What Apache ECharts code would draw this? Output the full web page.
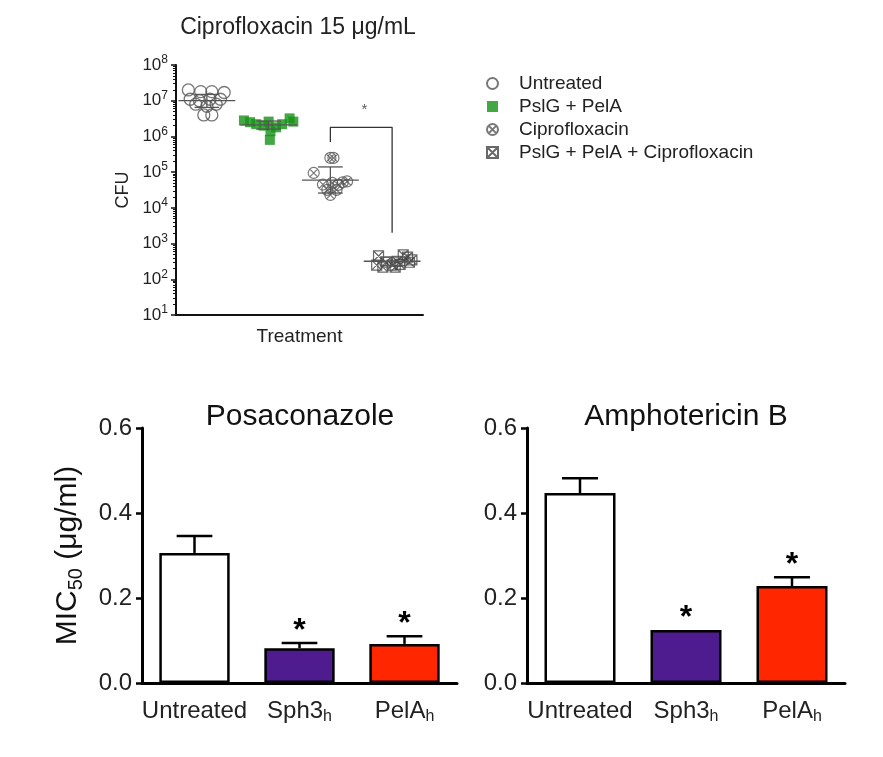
<!DOCTYPE html>
<html><head><meta charset="utf-8">
<script src="https://cdn.jsdelivr.net/npm/echarts@6/dist/echarts.min.js"></script>
<style>html,body{margin:0;padding:0;background:#fff}#c{width:883px;height:757px}</style>
</head><body><div id="c"></div>
<script>
// ---------- Top panel: CFU scatter (log scale) ----------
const treatments = ['Untreated', 'PslG + PelA', 'Ciprofloxacin', 'PslG + PelA + Ciprofloxacin'];
const untreatedJitter = [-0.30, -0.10, 0.08, 0.28, -0.27, -0.12, 0.05, 0.22, -0.18, 0.0, 0.15, -0.05, 0.08];
const untreatedCFU = [2.0e7, 1.8e7, 1.8e7, 1.7e7, 1.1e7, 1.0e7, 1.1e7, 1.1e7, 8e6, 7e6, 8e6, 4e6, 4e6];
const pelaJitter = [-0.40, -0.30, -0.20, -0.08, 0.0, 0.03, 0.02, 0.12, 0.22, 0.34, 0.40];
const pelaCFU = [2.8e6, 2.5e6, 2.2e6, 2.0e6, 2.6e6, 1.4e6, 8e5, 1.8e6, 2.2e6, 3.2e6, 2.6e6];
const ciproJitter = [0.0, 0.05, -0.27, -0.12, 0.03, 0.13, 0.27, -0.05, 0.10, 0.0, 0.20];
const ciproCFU = [2.5e5, 2.5e5, 9.5e4, 4.5e4, 5e4, 4.4e4, 5.5e4, 3.2e4, 3.2e4, 2.3e4, 5.2e4];
const comboJitter = [-0.22, -0.10, 0.0, 0.08, 0.18, 0.25, 0.28, -0.15, 0.05, 0.13, 0.32, -0.25];
const comboCFU = [450, 300, 250, 320, 480, 420, 300, 220, 220, 260, 350, 250];
const cfuMean = [1.0e7, 2.1e6, 6.0e4, 320];
const cfuSdHigh = [1.5e7, 2.7e6, 1.4e5, 420];
const cfuSdLow = [6.5e6, 1.6e6, 2.6e4, 240];
const bracketX = [2, 2, 3, 3];
const bracketY = [7e5, 1.8e6, 1.8e6, 2e3];
const bracketStar = [2.55, 5.5e6];

// ---------- Bottom panels: MIC50 bars ----------
const micCats = ['Untreated', 'Sph3', 'PelA'];
const micSub = ['', 'h', 'h'];
const posaMean = [0.306, 0.082, 0.092];
const posaErr = [0.346, 0.094, 0.110];
const posaSig = ['', '*', '*'];
const amphoMean = [0.447, 0.125, 0.228];
const amphoErr = [0.482, 0.125, 0.249];
const amphoSig = ['', '*', '*'];
const barColors = ['#ffffff', '#4e1c8f', '#ff2600'];

const FONT = 'Liberation Sans, Arial, Helvetica, sans-serif';
const chart = echarts.init(document.getElementById('c'), null, {renderer: 'canvas'});

function pts(jit, vals, cat) { return vals.map((v, k) => [cat + jit[k], v]); }

const circX = 'path://M10,0 A10,10 0 1,1 10,20 A10,10 0 1,1 10,0 Z M2.93,2.93 L17.07,17.07 M17.07,2.93 L2.93,17.07';
const squareX = 'path://M0,0 L20,0 L20,20 L0,20 Z M0,0 L20,20 M20,0 L0,20';

function meanSdRender(params, api) {
  const i = api.value(0), m = api.value(1), lo = api.value(2), hi = api.value(3);
  const pm0 = api.coord([i - 0.46, m]), pm1 = api.coord([i + 0.46, m]);
  const pLo = api.coord([i, lo]), pHi = api.coord([i, hi]);
  const c0 = api.coord([i - 0.2, hi]), c1 = api.coord([i + 0.2, hi]);
  const d0 = api.coord([i - 0.2, lo]), d1 = api.coord([i + 0.2, lo]);
  const st = {stroke: '#555', lineWidth: 1.3, fill: null};
  return {type: 'group', children: [
    {type: 'line', shape: {x1: pm0[0], y1: pm0[1], x2: pm1[0], y2: pm1[1]}, style: st},
    {type: 'line', shape: {x1: pLo[0], y1: pLo[1], x2: pHi[0], y2: pHi[1]}, style: st},
    {type: 'line', shape: {x1: c0[0], y1: c0[1], x2: c1[0], y2: c1[1]}, style: st},
    {type: 'line', shape: {x1: d0[0], y1: d0[1], x2: d1[0], y2: d1[1]}, style: st}
  ]};
}

function makeErrRender(sig) {
  return function (params, api) {
    const i = api.value(0), m = api.value(1), e = api.value(2);
    const base = api.coord([i, m]), top = api.coord([i, e]);
    const band = api.size([1, 0])[0];
    const half = band * 0.17;
    const st = {stroke: '#000', lineWidth: 2.5, fill: null};
    const children = [];
    if (e > m) {
      children.push({type: 'line', shape: {x1: base[0], y1: base[1], x2: top[0], y2: top[1]}, style: st});
      children.push({type: 'line', shape: {x1: top[0] - half, y1: top[1], x2: top[0] + half, y2: top[1]}, style: st});
    }
    const s = sig[params.dataIndex];
    if (s) {
      children.push({type: 'text', x: top[0], y: top[1] + 4,
        style: {text: s, font: 'bold 32px ' + FONT, fill: '#000', align: 'center', verticalAlign: 'bottom'}});
    }
    return {type: 'group', children};
  };
}

const catLabel = (v, idx) => v + '{s|' + (micSub[idx] || '\u200b') + '}';
const bottomXAxis = (gi) => ({
  type: 'category', gridIndex: gi, data: micCats, boundaryGap: true,
  axisLine: {lineStyle: {color: '#000', width: 3}},
  axisTick: {alignWithLabel: true, length: 7, lineStyle: {color: '#000', width: 2.5}},
  axisLabel: {interval: 0, formatter: catLabel, color: '#222', fontSize: 24, fontFamily: FONT, margin: 14,
    rich: {s: {fontSize: 16, fontFamily: FONT, color: '#222', verticalAlign: 'bottom', padding: [12, 0, 0, 0]}}}
});
const bottomYAxis = (gi, withName) => ({
  type: 'value', gridIndex: gi, min: 0, max: 0.6, interval: 0.2,
  axisLine: {show: true, lineStyle: {color: '#000', width: 3}},
  axisTick: {show: true, length: 6, lineStyle: {color: '#000', width: 2.5}},
  splitLine: {show: false},
  axisLabel: {formatter: v => v.toFixed(1), color: '#222', fontSize: 24, fontFamily: FONT, margin: 10},
  name: withName ? 'MIC{s|50} (μg/ml)' : '',
  nameLocation: 'middle', nameRotate: 90, nameGap: 56,
  nameTextStyle: {fontSize: 30, color: '#111', fontFamily: FONT,
    rich: {s: {fontSize: 20, fontFamily: FONT, color: '#111', verticalAlign: 'bottom', padding: [16, 0, 0, 0]}}}
});

const option = {
  backgroundColor: '#fff',
  animation: false,
  textStyle: {fontFamily: FONT},
  title: [
    {text: 'Ciprofloxacin 15 μg/mL', left: 298, top: 16, textAlign: 'center', padding: 0,
      textStyle: {fontSize: 23, fontWeight: 'normal', color: '#222', fontFamily: FONT}},
    {text: 'Posaconazole', left: 300, top: 402, textAlign: 'center', padding: 0,
      textStyle: {fontSize: 30, fontWeight: 'normal', color: '#111', fontFamily: FONT}},
    {text: 'Amphotericin B', left: 686, top: 402, textAlign: 'center', padding: 0,
      textStyle: {fontSize: 30, fontWeight: 'normal', color: '#111', fontFamily: FONT}}
  ],
  legend: {
    data: treatments, orient: 'vertical', left: 481, top: 69, itemGap: 4,
    itemWidth: 11, itemHeight: 11,
    textStyle: {fontSize: 19, lineHeight: 19, color: '#222', fontFamily: FONT, padding: [0, 0, 0, 16]}
  },
  grid: [
    {left: 176, top: 65, width: 247, height: 250},
    {left: 142, top: 428, width: 315, height: 255},
    {left: 527, top: 428, width: 318, height: 255}
  ],
  xAxis: [
    {type: 'category', gridIndex: 0, data: treatments, boundaryGap: true,
      axisLine: {lineStyle: {color: '#111', width: 2}},
      axisTick: {alignWithLabel: true, length: 5, lineStyle: {color: '#111', width: 2}},
      axisLabel: {show: false},
      name: 'Treatment', nameLocation: 'middle', nameGap: 12,
      nameTextStyle: {fontSize: 19, color: '#222', fontFamily: FONT, verticalAlign: 'top'}},
    {type: 'value', gridIndex: 0, min: -0.5, max: 3.5, show: false},
    bottomXAxis(1),
    bottomXAxis(2)
  ],
  yAxis: [
    {type: 'log', gridIndex: 0, logBase: 10, min: 10, max: 1e8,
      axisLine: {show: true, onZero: false, lineStyle: {color: '#111', width: 2}},
      axisTick: {show: true, length: 5, lineStyle: {color: '#111', width: 1.5}},
      minorTick: {show: true, splitNumber: 9, length: 3, lineStyle: {color: '#111', width: 1}},
      splitLine: {show: false},
      axisLabel: {
        formatter: v => '{b|10}{s|' + Math.round(Math.log10(v)) + '}',
        margin: 8,
        rich: {
          b: {fontSize: 17, color: '#222', fontFamily: FONT, lineHeight: 22},
          s: {fontSize: 12, color: '#222', fontFamily: FONT, verticalAlign: 'top', lineHeight: 13}
        }
      },
      name: 'CFU', nameLocation: 'middle', nameRotate: 90, nameGap: 44,
      nameTextStyle: {fontSize: 18, color: '#222', fontFamily: FONT}},
    bottomYAxis(1, true),
    bottomYAxis(2, false)
  ],
  series: [
    {name: treatments[0], type: 'scatter', xAxisIndex: 1, yAxisIndex: 0,
      data: pts(untreatedJitter, untreatedCFU, 0), symbol: 'circle', symbolSize: 12,
      itemStyle: {color: 'rgba(255,255,255,0)', borderColor: '#555', borderWidth: 1.3}, z: 3},
    {name: treatments[1], type: 'scatter', xAxisIndex: 1, yAxisIndex: 0,
      data: pts(pelaJitter, pelaCFU, 1), symbol: 'rect', symbolSize: 10,
      itemStyle: {color: '#149214'}, z: 3},
    {name: treatments[2], type: 'scatter', xAxisIndex: 1, yAxisIndex: 0,
      data: pts(ciproJitter, ciproCFU, 2), symbol: circX, symbolSize: 11,
      itemStyle: {color: 'rgba(255,255,255,0)', borderColor: '#555', borderWidth: 1.2}, z: 3},
    {name: treatments[3], type: 'scatter', xAxisIndex: 1, yAxisIndex: 0,
      data: pts(comboJitter, comboCFU, 3), symbol: squareX, symbolSize: 10,
      itemStyle: {color: 'rgba(255,255,255,0)', borderColor: '#444', borderWidth: 1.2}, z: 3},
    {type: 'custom', xAxisIndex: 1, yAxisIndex: 0, renderItem: meanSdRender,
      data: cfuMean.map((m, i) => [i, m, cfuSdLow[i], cfuSdHigh[i]]), z: 4, silent: true},
    {type: 'line', xAxisIndex: 1, yAxisIndex: 0, data: bracketX.map((x, i) => [x, bracketY[i]]),
      symbol: 'none', lineStyle: {color: '#333', width: 1.3}, z: 2, silent: true},
    {type: 'scatter', xAxisIndex: 1, yAxisIndex: 0, data: [bracketStar], symbolSize: 0,
      label: {show: true, formatter: '*', position: 'inside', fontSize: 15, color: '#333', fontFamily: FONT}, silent: true},
    {type: 'bar', xAxisIndex: 2, yAxisIndex: 1, barWidth: '67%',
      data: posaMean.map((v, i) => ({value: v, itemStyle: {color: barColors[i]}})),
      itemStyle: {borderColor: '#000', borderWidth: 2.5}, z: 2},
    {type: 'custom', xAxisIndex: 2, yAxisIndex: 1, renderItem: makeErrRender(posaSig),
      data: posaMean.map((m, i) => [i, m, posaErr[i]]), z: 3, silent: true},
    {type: 'bar', xAxisIndex: 3, yAxisIndex: 2, barWidth: '67%',
      data: amphoMean.map((v, i) => ({value: v, itemStyle: {color: barColors[i]}})),
      itemStyle: {borderColor: '#000', borderWidth: 2.5}, z: 2},
    {type: 'custom', xAxisIndex: 3, yAxisIndex: 2, renderItem: makeErrRender(amphoSig),
      data: amphoMean.map((m, i) => [i, m, amphoErr[i]]), z: 3, silent: true}
  ]
};
chart.setOption(option);
</script>
</body></html>
